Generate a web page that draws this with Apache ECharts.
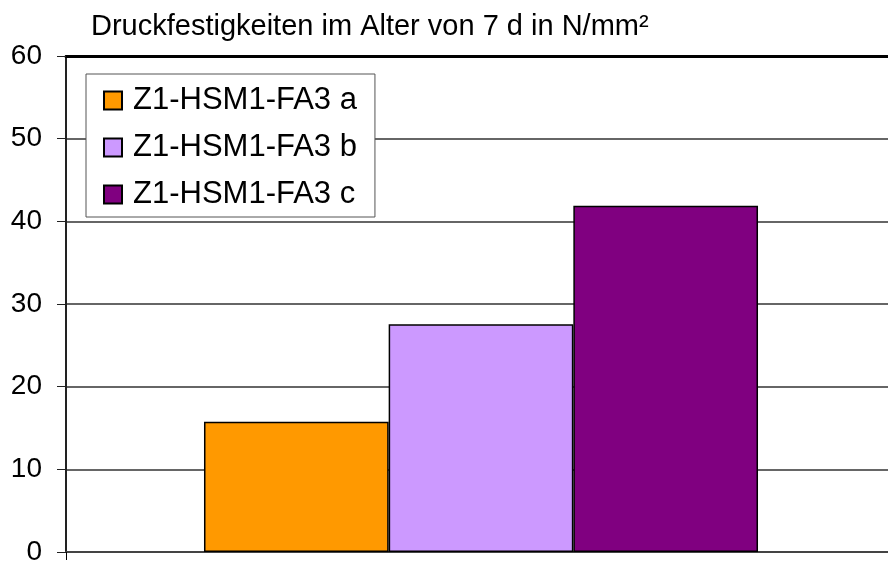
<!DOCTYPE html>
<html>
<head>
<meta charset="utf-8">
<script src="https://cdn.jsdelivr.net/npm/echarts@6/dist/echarts.min.js"></script>
<style>
  html, body { margin: 0; padding: 0; background: #fff; }
  #chart { width: 888px; height: 565px; }
</style>
</head>
<body>
<div id="chart"></div>
<script>
// Compressive strength after 7 days, three specimens
const categories = ['7 d'];
const seriesNames = ['Z1-HSM1-FA3 a', 'Z1-HSM1-FA3 b', 'Z1-HSM1-FA3 c'];
const seriesValues = [[15.75], [27.55], [41.9]];
const seriesColors = ['#FF9900', '#CC99FF', '#800080'];
const yTicks = { min: 0, max: 60, interval: 10 };
const titleText = 'Druckfestigkeiten im Alter von 7 d in N/mm²';

const font = '"Liberation Sans", Arial, sans-serif';

const chart = echarts.init(document.getElementById('chart'));
chart.setOption({
  animation: false,
  backgroundColor: '#ffffff',
  title: {
    text: titleText,
    left: 86,
    top: 7,
    textStyle: { fontFamily: font, fontSize: 29, fontWeight: 'normal', color: '#000' }
  },
  legend: {
    orient: 'vertical',
    left: 86,
    top: 74,
    padding: [11, 18, 7, 17],
    backgroundColor: '#fff',
    borderColor: '#555',
    borderWidth: 1,
    icon: 'rect',
    itemWidth: 18,
    itemHeight: 18,
    itemGap: 16,
    textStyle: { fontFamily: font, fontSize: 31, color: '#000', lineHeight: 30, padding: [0, 0, 0, 6] },
    data: seriesNames
  },
  // plot area runs slightly past the right edge of the canvas
  grid: { left: 66, width: 830, top: 56, bottom: 13, outerBoundsMode: 'none' },
  xAxis: [
    {
      type: 'category',
      data: categories,
      position: 'bottom',
      axisLine: { lineStyle: { color: '#444', width: 2 } },
      axisTick: { show: true, length: 8, lineStyle: { color: '#000', width: 1 } },
      axisLabel: { show: false }
    },
    {
      type: 'category',
      data: categories,
      position: 'top',
      axisLine: { lineStyle: { color: '#000', width: 3 } },
      axisTick: { show: false },
      axisLabel: { show: false }
    }
  ],
  yAxis: {
    type: 'value',
    min: yTicks.min,
    max: yTicks.max,
    interval: yTicks.interval,
    axisLine: { show: true, lineStyle: { color: '#222', width: 2 } },
    axisTick: { show: true, length: 9, lineStyle: { color: '#222', width: 1 } },
    axisLabel: { fontFamily: font, fontSize: 28, color: '#000', margin: 24 },
    splitLine: { lineStyle: { color: '#333', width: 1.5 } }
  },
  series: seriesNames.map((name, i) => ({
    name: name,
    type: 'bar',
    xAxisIndex: 0,
    data: seriesValues[i],
    barGap: '0%',
    barCategoryGap: '33.25%',
    itemStyle: { color: seriesColors[i], borderColor: '#000', borderWidth: 1.5 }
  }))
});
</script>
</body>
</html>
